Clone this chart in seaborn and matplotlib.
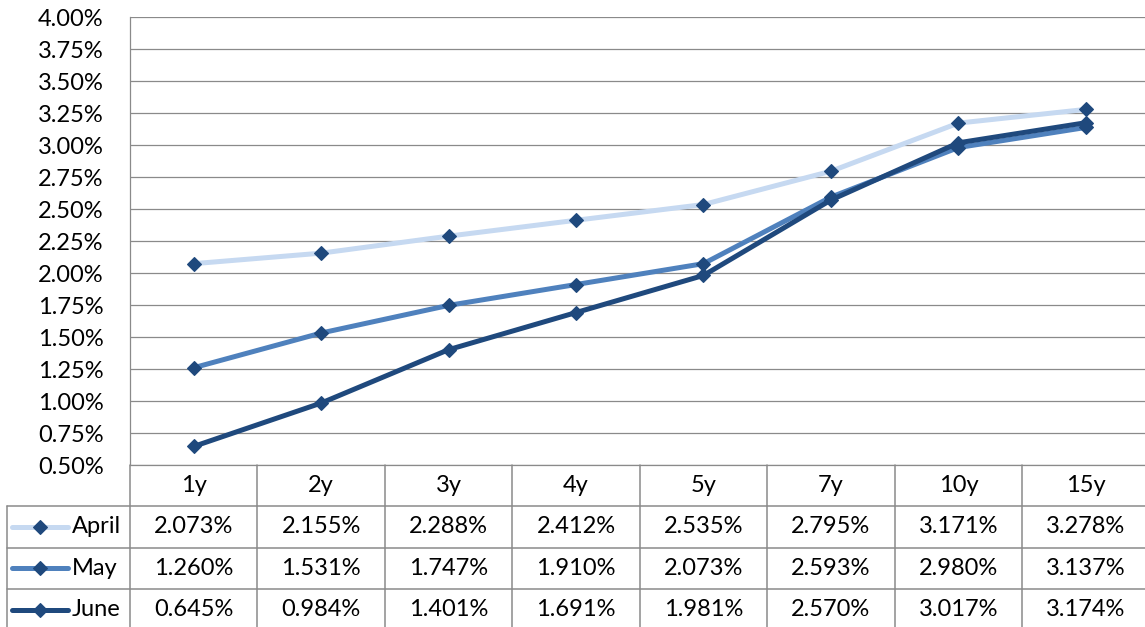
import numpy as np
import pandas as pd
import matplotlib
matplotlib.use("Agg")
import matplotlib.pyplot as plt
import seaborn as sns
from matplotlib.lines import Line2D
from matplotlib.ticker import FuncFormatter, MultipleLocator

# ---- data ----
tenors = ["1y", "2y", "3y", "4y", "5y", "7y", "10y", "15y"]
april = [2.073, 2.155, 2.288, 2.412, 2.535, 2.795, 3.171, 3.278]
may = [1.260, 1.531, 1.747, 1.910, 2.073, 2.593, 2.980, 3.137]
june = [0.645, 0.984, 1.401, 1.691, 1.981, 2.570, 3.017, 3.174]
series_names = ["April", "May", "June"]
series_values = [april, may, june]

# ---- style ----
line_colors = ["#C6D9F1", "#4F81BD", "#1F497D"]
marker_color = "#1F497D"
grid_color = "#8A8A8A"
LW = 3.6
MS = 6.8

sns.set_theme(style="white")
plt.rcParams['font.family'] = ['Lato', 'DejaVu Sans']
FS = 17

W, H = 1145, 627
fig = plt.figure(figsize=(W / 100, H / 100), dpi=100)
L, R, T, B = 130, 1149.5, 17, 465
ax = fig.add_axes([L / W, 1 - B / H, (R - L) / W, (B - T) / H])

rows = []
for name, vals in zip(series_names, series_values):
    for i, (t, v) in enumerate(zip(tenors, vals)):
        rows.append({"series": name, "pos": i, "tenor": t, "rate": v})
df = pd.DataFrame(rows)

for name, color in zip(series_names, line_colors):
    sub = df[df["series"] == name]
    sns.lineplot(data=sub, x="pos", y="rate", ax=ax, color=color, lw=LW,
                 marker="D", ms=MS, mfc=marker_color, mec=marker_color,
                 mew=0.8, legend=False, sort=False, zorder=3)

ax.set_xlim(-0.5, len(tenors) - 0.5)
ax.set_ylim(0.5, 4.0)
ax.yaxis.set_major_locator(MultipleLocator(0.25))
ax.yaxis.set_major_formatter(FuncFormatter(lambda v, p: f"{v:.2f}%"))
ax.set_xticks([])
ax.set_xlabel("")
ax.set_ylabel("")
ax.grid(axis="y", color=grid_color, lw=0.9)
ax.set_axisbelow(True)
ax.tick_params(axis="y", length=0, pad=19, labelsize=FS, labelcolor="black")
for s in ["right", "top"]:
    ax.spines[s].set_visible(False)
for s in ["left", "bottom"]:
    ax.spines[s].set_color(grid_color)
    ax.spines[s].set_linewidth(0.9)

# ---- data table below ----
def fx(x):
    return x / W

def fy(y):
    return 1 - y / H

def hline(y, x0, x1):
    fig.add_artist(Line2D([fx(x0), fx(x1)], [fy(y), fy(y)], transform=fig.transFigure,
                          color=grid_color, lw=1.1))

def vline(x, y0, y1):
    fig.add_artist(Line2D([fx(x), fx(x)], [fy(y0), fy(y1)], transform=fig.transFigure,
                          color=grid_color, lw=1.1))

cw = (R - L) / len(tenors)
row_edges = [465, 506, 547.5, 589, 631]
for y in row_edges[1:-1]:
    hline(y, 7, W + 5)
for k in range(len(tenors) + 1):
    vline(L + k * cw, 465, H + 5)
vline(7, 506, H + 5)

hdr_y = (row_edges[0] + row_edges[1]) / 2
for k, t in enumerate(tenors):
    fig.text(fx(L + (k + 0.5) * cw), fy(hdr_y), t, ha="center", va="center",
             fontsize=FS, color="black")

for r, (name, vals, color) in enumerate(zip(series_names, series_values, line_colors)):
    yc = (row_edges[r + 1] + row_edges[r + 2]) / 2
    fig.add_artist(Line2D([fx(12), fx(68)], [fy(yc), fy(yc)], transform=fig.transFigure,
                          color=color, lw=LW, solid_capstyle="round"))
    fig.add_artist(Line2D([fx(40)], [fy(yc)], transform=fig.transFigure, marker="D",
                          ms=MS, mfc=marker_color, mec=marker_color, mew=0.8, lw=0))
    fig.text(fx(72), fy(yc), name, ha="left", va="center", fontsize=FS, color="black")
    for k, v in enumerate(vals):
        fig.text(fx(L + (k + 0.5) * cw), fy(yc), f"{v:.3f}%", ha="center", va="center",
                 fontsize=FS, color="black")

fig.savefig("out.png", dpi=100)
